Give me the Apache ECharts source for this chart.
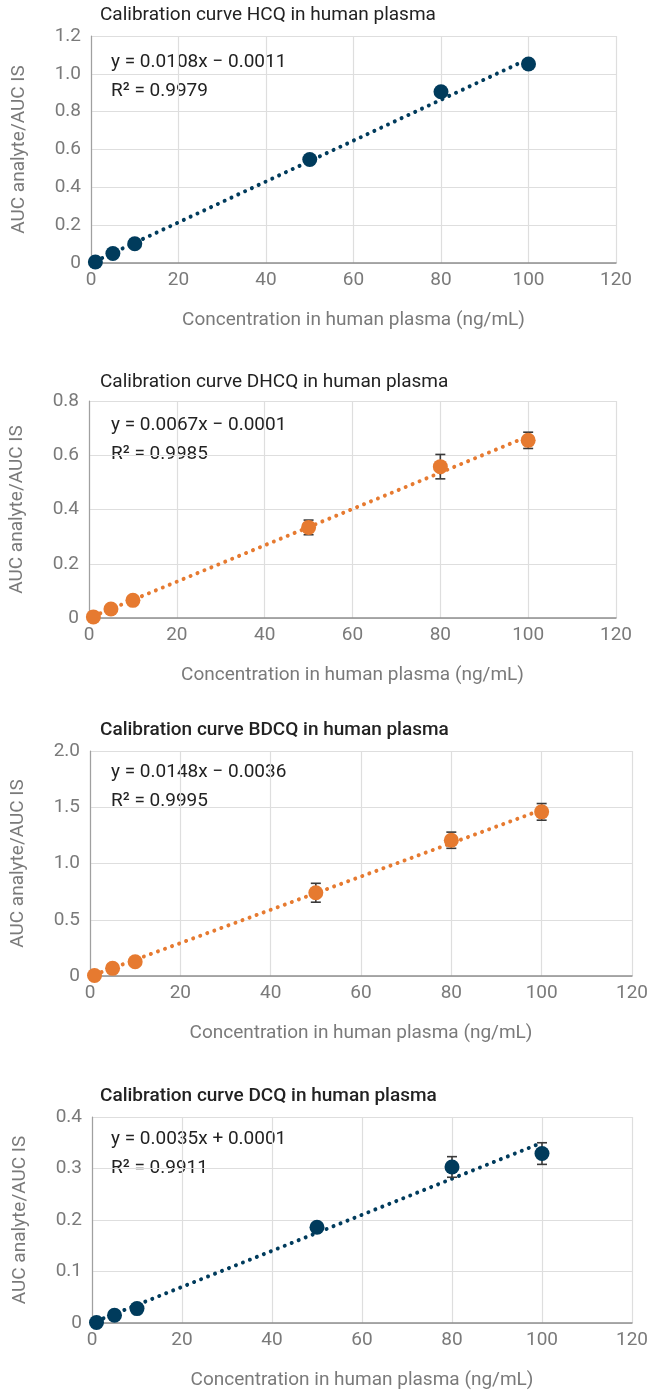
<!DOCTYPE html>
<html>
<head>
<meta charset="utf-8">
<style>
  html, body { margin: 0; padding: 0; background: #fff; }
  #chart { width: 651px; height: 1393px; }
</style>
<script src="https://cdn.jsdelivr.net/npm/echarts@6/dist/echarts.min.js"></script>
</head>
<body>
<div id="chart"></div>
<script>
// concentrations (ng/mL)
var conc = [1, 5, 10, 50, 80, 100]

// AUC analyte / AUC IS
var hcq = [0.005, 0.050, 0.102, 0.547, 0.905, 1.052]
var dhcq = [0.004, 0.033, 0.065, 0.334, 0.558, 0.655]
var bdcq = [0.005, 0.068, 0.127, 0.740, 1.207, 1.459]
var dcq = [0.001, 0.015, 0.028, 0.186, 0.303, 0.329]

// error bar half widths (0 = hidden under marker)
var hcqErr = [0, 0, 0, 0, 0, 0]
var dhcqErr = [0, 0, 0, 0.027, 0.045, 0.030]
var bdcqErr = [0, 0, 0, 0.084, 0.072, 0.074]
var dcqErr = [0, 0, 0, 0, 0.020, 0.021]

// linear trend line end points [x, y]
var hcqFit = [[1, 0.0097], [100, 1.0789]]
var dhcqFit = [[1, 0.0066], [100, 0.6699]]
var bdcqFit = [[1, 0.0112], [100, 1.4764]]
var dcqFit = [[1, 0.0036], [100, 0.3501]]

var titles = [
  'Calibration curve HCQ in human plasma',
  'Calibration curve DHCQ in human plasma',
  'Calibration curve BDCQ in human plasma',
  'Calibration curve DCQ in human plasma'
]
var equations = [
  ['y = 0.0108x \u2212 0.0011', 'R\u00b2 = 0.9979'],
  ['y = 0.0067x \u2212 0.0001', 'R\u00b2 = 0.9985'],
  ['y = 0.0148x \u2212 0.0036', 'R\u00b2 = 0.9995'],
  ['y = 0.0035x + 0.0001', 'R\u00b2 = 0.9911']
]
var yMax = [1.2, 0.8, 2.0, 0.4]
var yStep = [0.2, 0.2, 0.5, 0.1]
var xTicks = { min: 0, max: 120, interval: 20 }

var BLUE = '#003b5c'
var ORANGE = '#e67a30'
var FONT = 'Roboto'
var GREY = '#7a7a7a'

var panels = [
  { vals: hcq, err: hcqErr, fit: hcqFit, color: BLUE, grid: { left: 91, top: 36, width: 525, height: 227 }, titleY: 15, eqY: 62, bold: false },
  { vals: dhcq, err: dhcqErr, fit: dhcqFit, color: ORANGE, grid: { left: 88, top: 401, width: 528, height: 217 }, titleY: 382, eqY: 425, bold: false },
  { vals: bdcq, err: bdcqErr, fit: bdcqFit, color: ORANGE, grid: { left: 90, top: 751, width: 542, height: 225 }, titleY: 730, eqY: 772, bold: true },
  { vals: dcq, err: dcqErr, fit: dcqFit, color: BLUE, grid: { left: 92, top: 1117, width: 541, height: 206 }, titleY: 1096, eqY: 1139, bold: true }
]

var option = { animation: false, textStyle: { fontFamily: FONT }, title: [], grid: [], xAxis: [], yAxis: [], series: [], graphic: [] }

panels.forEach(function (p, i) {
  option.title.push({
    text: titles[i],
    left: 100,
    top: p.titleY - 11,
    padding: 0,
    textStyle: { fontSize: 19, lineHeight: 22, fontWeight: p.bold ? 500 : 'normal', color: '#222', fontFamily: FONT }
  })
  option.grid.push(Object.assign({ containLabel: false }, p.grid))
  option.xAxis.push({
    gridIndex: i,
    type: 'value',
    min: xTicks.min,
    max: xTicks.max,
    interval: xTicks.interval,
    name: 'Concentration in human plasma (ng/mL)',
    nameLocation: 'middle',
    nameGap: 48,
    nameTextStyle: { fontSize: 19, color: GREY, fontFamily: FONT },
    axisLine: { lineStyle: { color: '#8e8e8e', width: 1.5 } },
    axisTick: { show: false },
    axisLabel: { fontSize: 19, color: GREY, margin: 8, fontFamily: FONT },
    splitLine: { lineStyle: { color: '#dedede', width: 1.2 } }
  })
  option.yAxis.push({
    gridIndex: i,
    type: 'value',
    min: 0,
    max: yMax[i],
    interval: yStep[i],
    name: 'AUC analyte/AUC IS',
    nameLocation: 'middle',
    nameGap: 62,
    nameTextStyle: { fontSize: 19, color: GREY, fontFamily: FONT },
    axisLine: { show: true, lineStyle: { color: '#a0a0a0', width: 1.2 } },
    axisTick: { show: false },
    axisLabel: {
      fontSize: 19, color: GREY, margin: 10, fontFamily: FONT,
      formatter: function (v) { return v === 0 ? '0' : v.toFixed(1) }
    },
    splitLine: { lineStyle: { color: '#dedede', width: 1.2 } }
  })

  // dotted trend line
  option.series.push({
    type: 'line',
    xAxisIndex: i,
    yAxisIndex: i,
    data: p.fit,
    symbol: 'none',
    z: 2,
    lineStyle: { color: p.color, width: 4, type: [0.01, 7.5], cap: 'round' }
  })

  // error bars
  var errData = conc.map(function (x, k) { return [x, p.vals[k] - p.err[k], p.vals[k] + p.err[k]] })
    .filter(function (d, k) { return p.err[k] > 0 })
  option.series.push({
    type: 'custom',
    xAxisIndex: i,
    yAxisIndex: i,
    data: errData,
    z: 3,
    renderItem: function (params, api) {
      var lo = api.coord([api.value(0), api.value(1)])
      var hi = api.coord([api.value(0), api.value(2)])
      var w = 5
      var st = { stroke: '#3a3a3a', lineWidth: 1.6 }
      return {
        type: 'group',
        children: [
          { type: 'line', shape: { x1: lo[0], y1: lo[1], x2: hi[0], y2: hi[1] }, style: st },
          { type: 'line', shape: { x1: lo[0] - w, y1: lo[1], x2: lo[0] + w, y2: lo[1] }, style: st },
          { type: 'line', shape: { x1: hi[0] - w, y1: hi[1], x2: hi[0] + w, y2: hi[1] }, style: st }
        ]
      }
    }
  })

  // points
  option.series.push({
    type: 'scatter',
    xAxisIndex: i,
    yAxisIndex: i,
    data: conc.map(function (x, k) { return [x, p.vals[k]] }),
    symbolSize: 15,
    z: 4,
    itemStyle: { color: p.color, opacity: 1 }
  })

  option.graphic.push({
    type: 'text',
    left: 111,
    top: p.eqY - 11,
    style: { text: equations[i][0], fontSize: 19, fontFamily: FONT, fill: '#222', lineHeight: 22 }
  })
  option.graphic.push({
    type: 'text',
    left: 111,
    top: p.eqY + 18,
    style: { text: equations[i][1], fontSize: 19, fontFamily: FONT, fill: '#222', lineHeight: 22 }
  })
})

var chart = echarts.init(document.getElementById('chart'), null, { renderer: 'canvas' })
chart.setOption(option)
</script>
</body>
</html>
